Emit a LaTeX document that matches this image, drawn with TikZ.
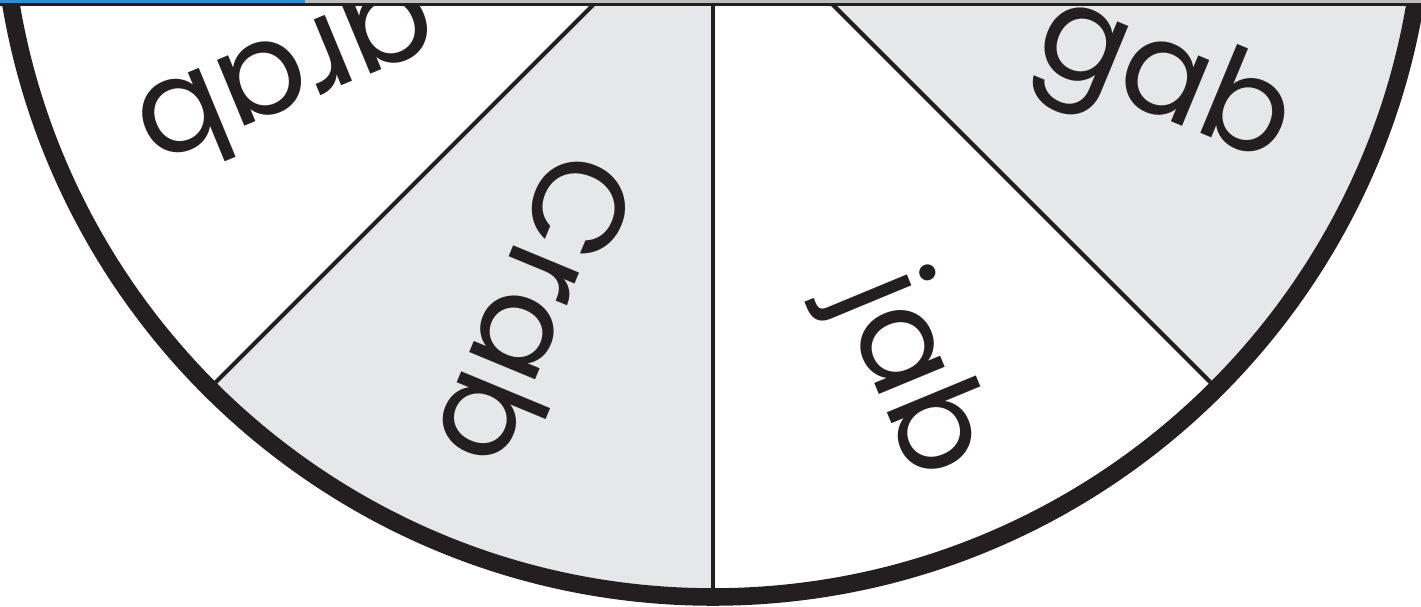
\documentclass[tikz,border=0pt]{standalone}
\usepackage{fontspec}
\setmainfont{Poppins}
\usetikzlibrary{positioning}
\definecolor{ink}{RGB}{35,31,32}
\definecolor{sectorgray}{RGB}{230,231,232}
\definecolor{barblue}{RGB}{48,142,206}
\definecolor{bargray}{RGB}{190,190,190}

\begin{document}
\begin{tikzpicture}[
    x=0.01cm, y=0.01cm,
    word/.style={anchor=mid, text=ink, font=\fontsize{37}{44}\selectfont},
    divider/.style={draw=ink, line width=1.2pt},
    rim/.style={draw=ink, line width=5pt},
    shaded/.style={fill=sectorgray},
]
\useasboundingbox (0,0) rectangle (1421,607);
\coordinate (hub) at (713,722);

% wheel, cut at the top
\begin{scope}
\clip (0,0) rectangle (1421,603);
\fill[shaded] (hub) -- ++(-90:712) arc[start angle=-90, end angle=-135, radius=712] -- cycle;
\fill[shaded] (hub) -- ++(0:712) arc[start angle=0, end angle=-45, radius=712] -- cycle;
\foreach \a in {-45,-90,-135}
    \draw[divider] (hub) -- ++(\a:712);
\draw[rim] (hub) circle[radius=712];

\node[word, rotate=-157.5] (grab) at (275,560) {grab};
\node[word, rotate=-112.5] (crab) at (503,310) {Crab};
\node[word, rotate=-67.5] (jab) at (886,222) {jab};
\node[word, rotate=-22.5] (gab) at (1155,503) {gab};
\end{scope}

% page edge
\fill[bargray] (305,604) rectangle (1421,607);
\fill[barblue] (0,604) rectangle (305,607);
\fill[ink] (0,601) rectangle (1421,604);

\end{tikzpicture}
\end{document}
